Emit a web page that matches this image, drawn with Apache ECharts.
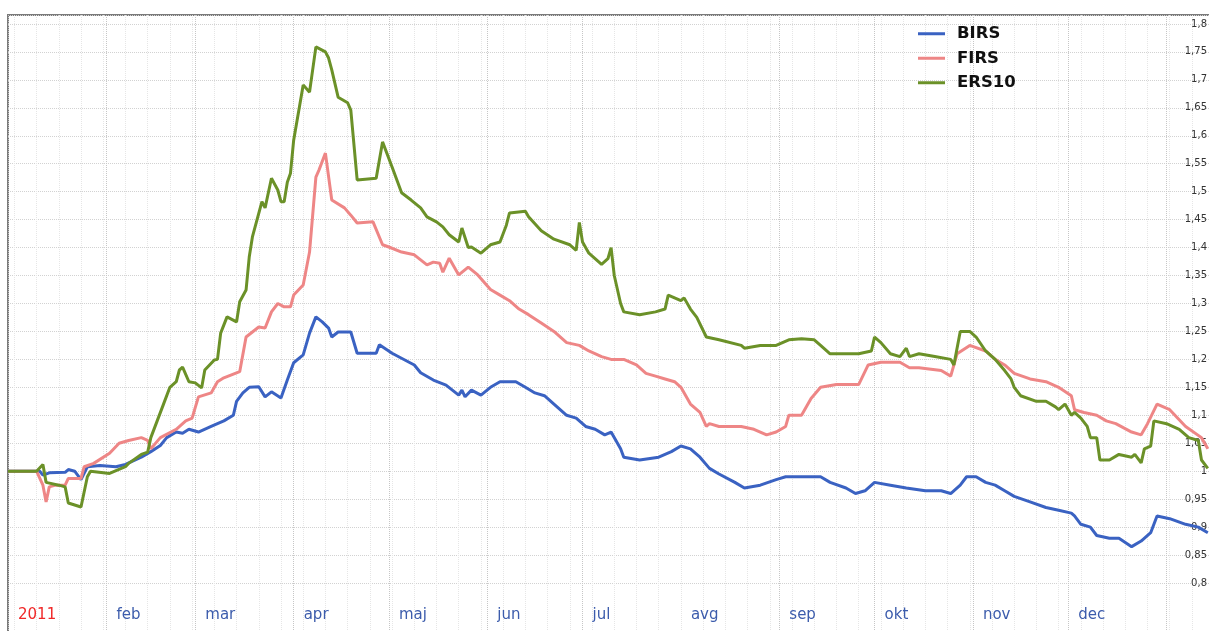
<!DOCTYPE html>
<html>
<head>
<meta charset="utf-8">
<script src="https://cdn.jsdelivr.net/npm/echarts@6/dist/echarts.min.js"></script>
<style>
  html, body { margin: 0; padding: 0; background: #fff; }
  #chart { width: 1209px; height: 631px; }
</style>
</head>
<body>
<div id="chart"></div>
<script>
// month names (Slovenian), first label shows the year
const monthNames = ['2011', 'feb', 'mar', 'apr', 'maj', 'jun', 'jul', 'avg', 'sep', 'okt', 'nov', 'dec'];
const seriesNames = ['BIRS', 'FIRS', 'ERS10'];

// days counted from 1 Jan 2011
const birsDays = [0, 10, 11, 13, 18, 19, 21, 23, 25, 29, 34, 37, 42, 45, 48, 50, 53, 55, 57, 60, 64, 66, 68, 71, 72, 74, 76, 79, 81, 83, 86, 88, 90, 93, 95, 97, 99, 101, 102, 104, 108, 110, 116, 117, 121, 128, 130, 134, 138, 142, 143, 144, 146, 149, 152, 155, 160, 163, 166, 169, 172, 176, 179, 182, 185, 188, 190, 193, 194, 199, 205, 209, 212, 215, 218, 221, 224, 229, 232, 237, 242, 245, 250, 256, 259, 264, 267, 270, 273, 278, 283, 289, 294, 297, 300, 302, 305, 308, 311, 314, 317, 322, 327, 331, 335, 336, 338, 341, 343, 347, 350, 354, 357, 360, 362, 366, 371, 375, 378];
const birsValues = [1.0, 1.0, 0.993, 0.997, 0.998, 1.003, 1.0, 0.985, 1.008, 1.01, 1.008, 1.012, 1.025, 1.035, 1.046, 1.06, 1.07, 1.068, 1.075, 1.07, 1.08, 1.085, 1.09, 1.1, 1.125, 1.14, 1.15, 1.151, 1.133, 1.142, 1.131, 1.163, 1.194, 1.208, 1.247, 1.276, 1.267, 1.256, 1.24, 1.249, 1.249, 1.211, 1.211, 1.226, 1.211, 1.19, 1.176, 1.163, 1.154, 1.136, 1.145, 1.133, 1.145, 1.136, 1.15, 1.16, 1.16, 1.15, 1.14, 1.135, 1.12, 1.1, 1.095, 1.08, 1.075, 1.065, 1.07, 1.04, 1.025, 1.02, 1.025, 1.035, 1.045, 1.04, 1.025, 1.005, 0.995, 0.98, 0.97, 0.975, 0.985, 0.99, 0.99, 0.99, 0.98, 0.97, 0.96, 0.965, 0.98, 0.975, 0.97, 0.965, 0.965, 0.96, 0.975, 0.99, 0.99, 0.98, 0.975, 0.965, 0.955, 0.945, 0.935, 0.93, 0.925, 0.92, 0.905, 0.9, 0.885, 0.88, 0.88, 0.865, 0.875, 0.89, 0.92, 0.915, 0.905, 0.9, 0.89];

const firsDays = [0, 9, 11, 12, 13, 15, 18, 19, 23, 24, 27, 32, 35, 38, 42, 44, 45, 48, 53, 56, 58, 60, 64, 66, 68, 72, 73, 75, 77, 79, 81, 83, 85, 87, 89, 90, 93, 95, 97, 98, 100, 102, 106, 108, 110, 115, 118, 120, 124, 128, 132, 134, 136, 137, 139, 142, 145, 148, 152, 155, 158, 161, 164, 168, 172, 176, 180, 183, 187, 190, 194, 198, 201, 204, 207, 210, 212, 215, 218, 220, 221, 224, 231, 235, 239, 242, 245, 246, 250, 253, 256, 261, 268, 271, 275, 281, 284, 287, 294, 297, 299, 303, 308, 311, 314, 317, 322, 327, 331, 335, 336, 339, 343, 346, 349, 354, 357, 359, 362, 366, 371, 376, 378];
const firsValues = [1.0, 1.0, 0.975, 0.945, 0.972, 0.975, 0.975, 0.987, 0.987, 1.008, 1.014, 1.032, 1.05, 1.055, 1.06, 1.055, 1.04, 1.06, 1.075, 1.09, 1.095, 1.133, 1.14, 1.16, 1.167, 1.176, 1.178, 1.24, 1.249, 1.258, 1.256, 1.285, 1.3, 1.294, 1.294, 1.315, 1.333, 1.392, 1.526, 1.539, 1.569, 1.485, 1.471, 1.458, 1.444, 1.446, 1.405, 1.401, 1.392, 1.387, 1.369, 1.374, 1.372, 1.356, 1.381, 1.351, 1.365, 1.351, 1.325, 1.315, 1.305, 1.29, 1.28, 1.265, 1.25, 1.23, 1.225, 1.215, 1.205, 1.2, 1.2, 1.19, 1.175, 1.17, 1.165, 1.16, 1.15, 1.12, 1.105, 1.08, 1.085, 1.08, 1.08, 1.075, 1.065, 1.07, 1.08, 1.1, 1.1, 1.13, 1.15, 1.155, 1.155, 1.19, 1.195, 1.195, 1.185, 1.185, 1.18, 1.17, 1.21, 1.225, 1.215, 1.2, 1.19, 1.175, 1.165, 1.16, 1.15, 1.135, 1.11, 1.105, 1.1, 1.09, 1.085, 1.07, 1.065, 1.085, 1.12, 1.11, 1.08, 1.06, 1.04];

const ersDays = [0, 9, 11, 12, 16, 18, 19, 23, 25, 26, 32, 37, 38, 42, 44, 45, 47, 49, 51, 53, 54, 55, 57, 59, 61, 62, 65, 66, 67, 69, 72, 73, 75, 76, 77, 80, 81, 83, 85, 86, 87, 88, 89, 90, 93, 95, 97, 100, 101, 102, 104, 107, 108, 110, 116, 118, 121, 124, 127, 130, 132, 135, 137, 139, 142, 143, 145, 146, 149, 152, 155, 157, 158, 163, 164, 168, 172, 177, 179, 180, 181, 183, 187, 189, 190, 191, 193, 194, 199, 204, 207, 208, 212, 213, 215, 217, 220, 224, 231, 232, 237, 242, 246, 250, 254, 256, 259, 268, 272, 273, 275, 278, 281, 283, 284, 287, 292, 297, 298, 300, 303, 305, 308, 311, 314, 316, 317, 319, 324, 327, 330, 331, 333, 335, 336, 338, 340, 341, 343, 344, 347, 350, 354, 355, 357, 358, 360, 361, 365, 369, 372, 375, 376, 378];
const ersValues = [1.0, 1.0, 1.012, 0.98, 0.975, 0.972, 0.943, 0.936, 0.99, 1.0, 0.996, 1.008, 1.014, 1.03, 1.034, 1.06, 1.09, 1.12, 1.15, 1.16, 1.181, 1.186, 1.16, 1.158, 1.149, 1.181, 1.199, 1.2, 1.247, 1.276, 1.267, 1.303, 1.324, 1.383, 1.419, 1.482, 1.471, 1.524, 1.503, 1.482, 1.482, 1.517, 1.533, 1.592, 1.691, 1.678, 1.759, 1.75, 1.739, 1.718, 1.669, 1.659, 1.646, 1.521, 1.524, 1.589, 1.544, 1.498, 1.485, 1.471, 1.455, 1.446, 1.437, 1.423, 1.41, 1.435, 1.4, 1.401, 1.39, 1.405, 1.41, 1.44, 1.462, 1.465, 1.455, 1.43, 1.415, 1.405, 1.395, 1.445, 1.41, 1.39, 1.37, 1.38, 1.4, 1.35, 1.3, 1.285, 1.28, 1.285, 1.29, 1.315, 1.305, 1.31, 1.29, 1.275, 1.24, 1.235, 1.225, 1.22, 1.225, 1.225, 1.235, 1.237, 1.235, 1.225, 1.21, 1.21, 1.215, 1.24, 1.23, 1.21, 1.205, 1.22, 1.205, 1.21, 1.205, 1.2, 1.19, 1.25, 1.25, 1.24, 1.215, 1.2, 1.18, 1.165, 1.15, 1.135, 1.125, 1.125, 1.115, 1.11, 1.12, 1.1, 1.105, 1.095, 1.08, 1.06, 1.06, 1.02, 1.02, 1.03, 1.025, 1.03, 1.015, 1.04, 1.045, 1.09, 1.085, 1.075, 1.06, 1.055, 1.02, 1.005];

const colors = ['#3a62c2', '#ee8686', '#6b9128'];

const DAY = 86400000;
const start = new Date(2011, 0, 1).getTime();
const end = new Date(2012, 0, 15).getTime();
const toPairs = (days, vals) => days.map((d, i) => [start + d * DAY, vals[i]]);

// plot box in pixels; the frame runs to the bottom edge, the value area stops at 0,8
const plotLeft = 8, plotRight = -2, plotTop = 15;
const valueBottom = 48;
const plotWidth = 1209 - plotLeft - plotRight;
const pxPerDay = plotWidth / ((end - start) / DAY);
const weekOffset = 2; // first monday is 3 jan

const fontFamily = 'DejaVu Sans';

const chart = echarts.init(document.getElementById('chart'), null, { renderer: 'canvas' });

chart.setOption({
    animation: false,
    color: colors,
    legend: {
        orient: 'vertical',
        left: 913,
        top: 19,
        icon: 'rect',
        itemWidth: 27,
        itemHeight: 3,
        itemGap: 5,
        data: seriesNames,
        textStyle: {
            fontFamily: fontFamily,
            fontWeight: 'bold',
            fontSize: 16.5,
            lineHeight: 19.5,
            color: '#111',
            padding: [0, 0, 0, 7]
        }
    },
    grid: [{
        // value area
        left: plotLeft,
        right: plotRight,
        top: plotTop,
        bottom: valueBottom,
        outerBoundsMode: 'none'
    }, {
        // frame + month lines
        left: plotLeft,
        right: plotRight,
        top: plotTop,
        bottom: -8,
        show: true,
        borderColor: '#7a7a7a',
        borderWidth: 2,
        outerBoundsMode: 'none'
    }, {
        // week lines
        left: plotLeft + weekOffset * pxPerDay,
        right: plotRight,
        top: plotTop,
        bottom: -8,
        outerBoundsMode: 'none'
    }],
    xAxis: [{
        type: 'time',
        gridIndex: 0,
        min: start,
        max: end,
        splitNumber: 12,
        minInterval: 28 * DAY,
        maxInterval: 31 * DAY,
        axisLine: { show: false },
        axisTick: { show: false },
        splitLine: { show: false },
        axisLabel: {
            margin: 25,
            align: 'left',
            padding: [0, 0, 0, 10],
            hideOverlap: false,
            showMinLabel: true,
            fontFamily: fontFamily,
            fontSize: 15,
            formatter: function (value) {
                const d = new Date(value);
                if (d.getFullYear() !== 2011) return '';
                const m = d.getMonth();
                return m === 0 ? '{y|' + monthNames[0] + '}' : '{m|' + monthNames[m] + '}';
            },
            rich: {
                y: { color: '#f02828', fontFamily: fontFamily, fontSize: 15 },
                m: { color: '#3c5cac', fontFamily: fontFamily, fontSize: 15 }
            }
        }
    }, {
        type: 'time',
        gridIndex: 1,
        min: start,
        max: end,
        splitNumber: 12,
        minInterval: 28 * DAY,
        maxInterval: 31 * DAY,
        axisLine: { show: false },
        axisTick: { show: false },
        axisLabel: { show: false },
        splitLine: {
            show: true,
            lineStyle: { color: '#c6c6c6', type: 'dotted', width: 1 }
        }
    }, {
        type: 'value',
        gridIndex: 2,
        min: 0,
        max: (end - start) / DAY - weekOffset,
        interval: 7,
        axisLine: { show: false },
        axisTick: { show: false },
        axisLabel: { show: false },
        splitLine: {
            show: true,
            lineStyle: { color: '#e6e6e6', type: 'dotted', width: 1 }
        }
    }],
    yAxis: [{
        type: 'value',
        gridIndex: 0,
        position: 'right',
        min: 0.8,
        max: 1.816,
        interval: 0.05,
        axisLine: { show: false },
        axisTick: { show: false },
        axisLabel: {
            inside: true,
            margin: 4,
            showMaxLabel: false,
            fontFamily: fontFamily,
            fontSize: 10,
            color: '#333',
            formatter: v => String(+v.toFixed(2)).replace('.', ',')
        },
        splitLine: {
            show: true,
            lineStyle: { color: '#d2d2d2', type: 'dotted', width: 1 }
        }
    }, {
        type: 'value', gridIndex: 1, show: false, min: 0, max: 1
    }, {
        type: 'value', gridIndex: 2, show: false, min: 0, max: 1
    }],
    series: [
        { name: 'BIRS', data: toPairs(birsDays, birsValues) },
        { name: 'FIRS', data: toPairs(firsDays, firsValues) },
        { name: 'ERS10', data: toPairs(ersDays, ersValues) }
    ].map(s => ({
        name: s.name,
        type: 'line',
        xAxisIndex: 0,
        yAxisIndex: 0,
        data: s.data,
        showSymbol: false,
        symbol: 'none',
        lineStyle: { width: 3 },
        emphasis: { disabled: true },
        z: 3
    }))
});
</script>
</body>
</html>
